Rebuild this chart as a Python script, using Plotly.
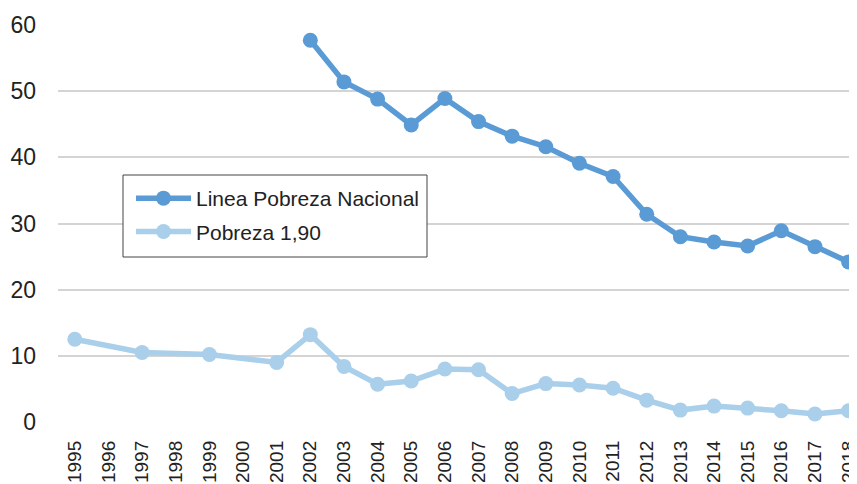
import plotly.graph_objects as go

years = [str(y) for y in range(1995, 2019)]

nacional_years = [str(y) for y in range(2002, 2019)]
nacional_values = [57.7, 51.4, 48.8, 44.9, 48.9, 45.4, 43.2, 41.6, 39.1, 37.1,
                   31.4, 28.0, 27.2, 26.6, 28.9, 26.5, 24.2]

p190_years = ["1995", "1997", "1999", "2001"] + [str(y) for y in range(2002, 2019)]
p190_values = [12.5, 10.5, 10.2, 9.0, 13.2, 8.4, 5.7, 6.2, 8.0, 7.9, 4.3, 5.8,
               5.6, 5.1, 3.3, 1.8, 2.4, 2.1, 1.7, 1.2, 1.7]

y_ticks = [0, 10, 20, 30, 40, 50, 60]

font_family = "Liberation Sans, Arial"

# page body has an 8px margin: figure is drawn at (8, 8)
OFF = 8
W, H = 857 - OFF, 484 - OFF
L, T = 58 - OFF, 25 - OFF
B = H - (422 - OFF)
PW, PH = W - L, (422 - OFF) - T


def px_x(x):
    return (x - 58) / PW


def px_y(y):
    return (422 - y) / PH


fig = go.Figure()
fig.add_trace(go.Scatter(
    x=nacional_years, y=nacional_values, name="Linea Pobreza Nacional",
    legendgroup="a",
    mode="lines+markers", line=dict(color="#5B9BD5", width=5.5),
    marker=dict(color="#5B9BD5", size=15), cliponaxis=False,
))
fig.add_trace(go.Scatter(
    x=p190_years, y=p190_values, name="Pobreza 1,90",
    legendgroup="b",
    mode="lines+markers", line=dict(color="#A9CFEA", width=5.5),
    marker=dict(color="#A9CFEA", size=15), cliponaxis=False,
))

fig.add_shape(
    type="rect", xref="paper", yref="paper",
    x0=px_x(123), x1=px_x(427), y0=px_y(257), y1=px_y(175),
    line=dict(color="#444444", width=1), fillcolor="white", layer="above",
)

fig.update_layout(
    width=W, height=H,
    margin=dict(l=L, r=0, t=T, b=B),
    paper_bgcolor="white", plot_bgcolor="white",
    font=dict(family=font_family, size=20, color="#222222"),
    showlegend=True,
    legend=dict(
        x=px_x(131), y=px_y(178), xanchor="left", yanchor="top",
        borderwidth=0, bgcolor="rgba(0,0,0,0)",
        font=dict(family=font_family, size=21, color="#222222"),
        tracegroupgap=3, itemwidth=55,
    ),
    xaxis=dict(
        type="category", categoryorder="array", categoryarray=years,
        tickvals=years, ticktext=years, automargin=False,
        range=[-0.5, 23.25], tickangle=-90, showgrid=False, zeroline=False,
        showline=False, ticks="", ticklabelstandoff=14,
        tickfont=dict(family=font_family, size=19, color="#222222"),
    ),
    yaxis=dict(
        range=[0, 60], tickvals=y_ticks, showgrid=True, gridcolor="#D4D4D4",
        gridwidth=2, zeroline=False, showline=False, ticks="", automargin=False,
        ticklabelstandoff=21,
        tickfont=dict(family=font_family, size=23, color="#222222"),
    ),
)

fig.write_html("out.html")
